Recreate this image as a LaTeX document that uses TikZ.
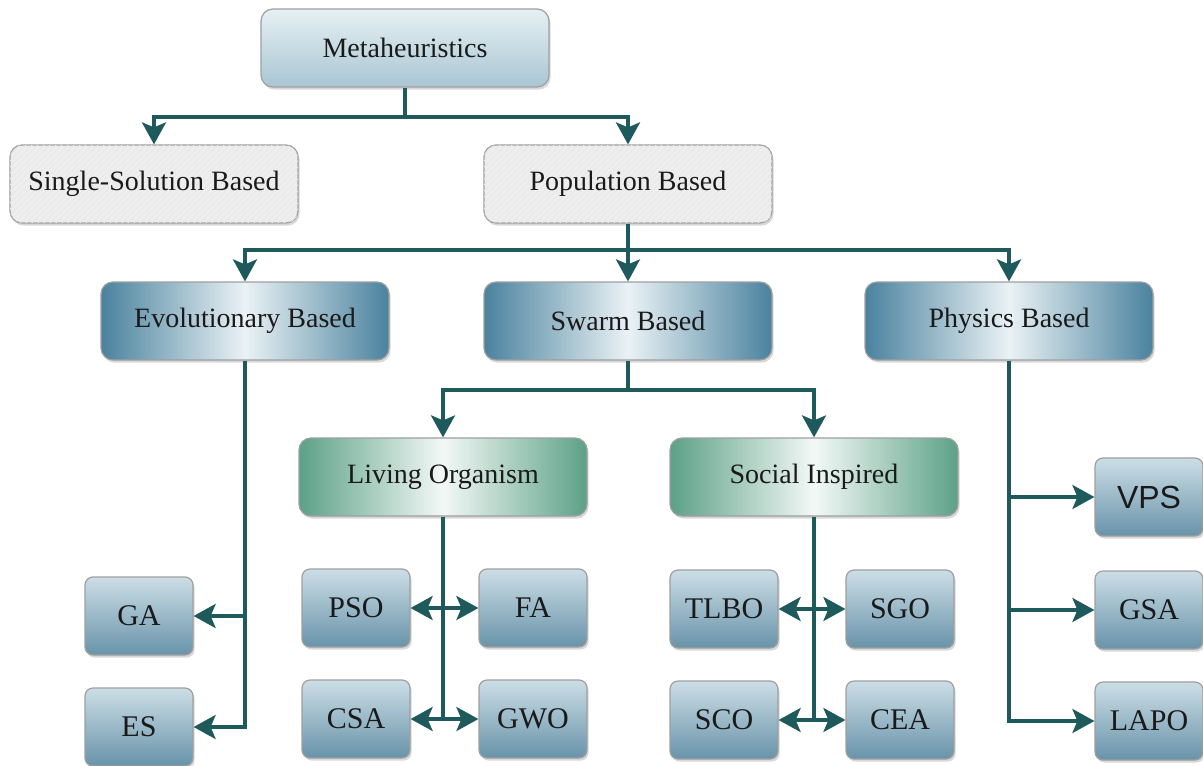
\documentclass[tikz,border=0pt]{standalone}
\usepackage{fontspec}
\setmainfont{Liberation Serif}
\newfontfamily\vpsfont{Liberation Sans}
\usetikzlibrary{arrows.meta,shadows,patterns}
\definecolor{linecol}{HTML}{1E5A5C}
\definecolor{steel}{HTML}{4A829E}
\definecolor{steellight}{HTML}{EAF2F5}
\definecolor{greenedge}{HTML}{5CA187}
\definecolor{greenlight}{HTML}{F3F8F6}
\definecolor{smalltop}{HTML}{CCDEE6}
\definecolor{smallbot}{HTML}{6893A9}
\definecolor{metatop}{HTML}{E6F0F3}
\definecolor{metabot}{HTML}{A9C6D3}
\definecolor{grayfill}{HTML}{EEEEEE}
\definecolor{txt}{HTML}{1A1A1A}
\tikzset{
  basebox/.style={rounded corners=6pt, draw=gray!75, line width=0.6pt, inner sep=0pt,
    text=txt, font=\fontsize{14}{16}\selectfont,
    minimum width=144pt, minimum height=39pt,
    drop shadow={shadow xshift=0.8pt, shadow yshift=-1.3pt, opacity=0.3}},
  metabox/.style={basebox, top color=metatop, bottom color=metabot},
  graybox/.style={basebox, fill=grayfill, postaction={pattern=north east lines, pattern color=gray!18}},
  bluebox/.style={basebox, left color=steel, right color=steel, middle color=steellight},
  greenbox/.style={basebox, left color=greenedge, right color=greenedge, middle color=greenlight},
  smallbox/.style={basebox, rounded corners=4pt, minimum width=54pt, minimum height=39pt,
    top color=smalltop, bottom color=smallbot, font=\fontsize{15}{17}\selectfont},
  conn/.style={draw=linecol, line width=1.7pt},
  arr/.style={conn, -{Stealth[length=11pt,width=12pt,inset=2.5pt]}},
  dbl/.style={conn, {Stealth[length=11pt,width=12pt,inset=2.5pt]}-{Stealth[length=11pt,width=12pt,inset=2.5pt]}}
}
\begin{document}
\begin{tikzpicture}[x=0.5pt,y=-0.5pt]
\useasboundingbox[fill=white] (0,0) rectangle (1203,765);
% top levels
\node[metabox] (meta) at (405,48) {Metaheuristics};
\node[graybox] (single) at (154,184) {Single-Solution Based};
\node[graybox] (pop) at (628,184) {Population Based};
\node[bluebox] (evo) at (245,321) {Evolutionary Based};
\node[bluebox] (swarm) at (628,321) {Swarm Based};
\node[bluebox] (phys) at (1009,321) {Physics Based};
\node[greenbox] (liv) at (443,477) {Living Organism};
\node[greenbox] (soc) at (814,477) {Social Inspired};
% small boxes
\node[smallbox] (ga) at (139,616) {GA};
\node[smallbox] (es) at (139,727) {ES};
\node[smallbox] (pso) at (356,608) {PSO};
\node[smallbox] (fa) at (533,608) {FA};
\node[smallbox] (csa) at (356,719) {CSA};
\node[smallbox] (gwo) at (533,719) {GWO};
\node[smallbox] (tlbo) at (724,609) {TLBO};
\node[smallbox] (sgo) at (900,609) {SGO};
\node[smallbox] (sco) at (724,720) {SCO};
\node[smallbox] (cea) at (900,720) {CEA};
\node[smallbox, font=\vpsfont\fontsize{16}{18}\selectfont] (vps) at (1149,497) {VPS};
\node[smallbox] (gsa) at (1149,610) {GSA};
\node[smallbox] (lapo) at (1149,721) {LAPO};
% connectors level 1
\coordinate (j1) at (405,117);
\draw[conn] (meta.south) -- (j1);
\draw[arr] (j1) -| (single.north);
\draw[arr] (j1) -| (pop.north);
% level 2
\coordinate (j2) at (628,250);
\draw[conn] (pop.south) -- (j2);
\draw[arr] (j2) -| (evo.north);
\draw[arr] (j2) -- (swarm.north);
\draw[arr] (j2) -| (phys.north);
% level 3
\coordinate (j3) at (628,390);
\draw[conn] (swarm.south) -- (j3);
\draw[arr] (j3) -| (liv.north);
\draw[arr] (j3) -| (soc.north);
% evolutionary
\draw[arr] (evo.south) |- (es.east);
\draw[arr] (evo.south |- ga.east) -- (ga.east);
% living
\draw[conn] (liv.south) -- (liv.south |- csa.east);
\draw[dbl] (pso.east) -- (fa.west);
\draw[dbl] (csa.east) -- (gwo.west);
% social
\draw[conn] (soc.south) -- (soc.south |- sco.east);
\draw[dbl] (tlbo.east) -- (sgo.west);
\draw[dbl] (sco.east) -- (cea.west);
% physics
\draw[arr] (phys.south) |- (lapo.west);
\draw[arr] (phys.south |- vps.west) -- (vps.west);
\draw[arr] (phys.south |- gsa.west) -- (gsa.west);
\end{tikzpicture}
\end{document}
